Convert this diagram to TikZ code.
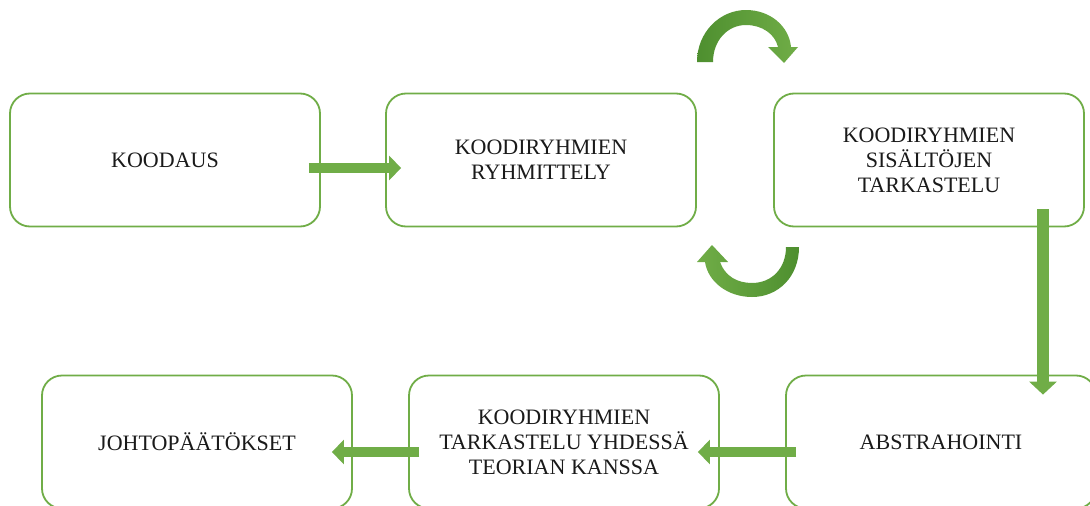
\documentclass[tikz,border=0pt]{standalone}
\usepackage{fontspec}
\setmainfont{Liberation Serif}
\usetikzlibrary{arrows.meta}
\definecolor{ogreen}{HTML}{70AD47}
\definecolor{dgreen}{HTML}{4E8F2F}
\definecolor{txt}{HTML}{1A1A1A}
\tikzset{
  stepbox/.style={draw=ogreen, line width=1.8pt, rounded corners=20pt, fill=white,
    minimum width=310pt, minimum height=133pt, inner sep=0pt, align=center,
    text=txt, font=\fontsize{22}{25}\selectfont},
  bigarrow/.style={draw=ogreen, line width=10pt,
    -{Triangle[width=24pt,length=12pt]}},
  vbigarrow/.style={draw=ogreen, line width=12pt,
    -{Triangle[width=27pt,length=13pt]}},
}
\begin{document}
\begin{tikzpicture}[x=1pt,y=-1pt]
\useasboundingbox (0,0) rectangle (1090,506);
\clip (0,0) rectangle (1090,506);
\fill[white] (0,0) rectangle (1090,506);

\node[stepbox] (b1) at (165,160) {KOODAUS};
\node[stepbox] (b2) at (541,160) {KOODIRYHMIEN\\RYHMITTELY};
\node[stepbox] (b3) at (929,160) {KOODIRYHMIEN\\SISÄLTÖJEN\\TARKASTELU};
\node[stepbox] (b4) at (197,442) {JOHTOPÄÄTÖKSET};
\node[stepbox] (b5) at (564,442) {KOODIRYHMIEN\\TARKASTELU YHDESSÄ\\TEORIAN KANSSA};
\node[stepbox] (b6) at (941,442) {ABSTRAHOINTI};

\draw[bigarrow] ([shift={(-12,8)}]b1.east) -- ([shift={(16,8)}]b2.west);
\draw[vbigarrow] ([shift={(114,-18)}]b3.south) -- ([shift={(102,20)}]b6.north);
\draw[bigarrow] ([shift={(11,10)}]b6.west) -- ([shift={(-22,10)}]b5.east);
\draw[bigarrow] ([shift={(11,10)}]b5.west) -- ([shift={(-21,10)}]b4.east);

% curved arrow (top)
\shade[left color=dgreen, right color=ogreen]
  (697,62) .. controls (697,32) and (720,10) .. (746,10)
  .. controls (770,10) and (789,26) .. (791,47)
  -- (798,47) -- (784,63) -- (768,47) -- (778,47)
  .. controls (775,34) and (762,25) .. (746,25)
  .. controls (728,25) and (713,40) .. (713,62) -- cycle;

% curved arrow (bottom)
\shade[left color=ogreen, right color=dgreen]
  (799,247) .. controls (799,277) and (778,297) .. (752,297)
  .. controls (728,297) and (708,282) .. (705,262)
  -- (697,262) -- (712,245) -- (728,262) -- (720,262)
  .. controls (725,276) and (737,283) .. (752,283)
  .. controls (772,283) and (786,268) .. (786,247) -- cycle;
\end{tikzpicture}
\end{document}
